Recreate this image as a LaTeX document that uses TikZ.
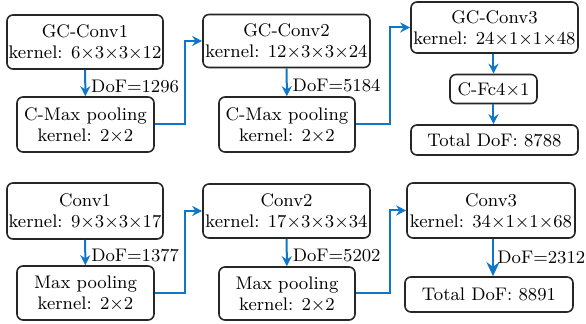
\documentclass[tikz,border=0pt]{standalone}
\usetikzlibrary{arrows.meta}
\definecolor{flowblue}{RGB}{16,118,200}
\begin{document}
\begin{tikzpicture}[x=0.5pt,y=-0.5pt,
  every node/.style={font=\fontsize{9.1}{10.6}\selectfont},
  blk/.style={draw=black!85, line width=0.8pt, rounded corners=3pt,
              align=center, inner sep=0pt},
  arr/.style={draw=flowblue, line width=1pt,
              -{Stealth[length=5pt,width=5pt]}},
  bigarr/.style={draw=flowblue, line width=1.4pt,
              -{Stealth[length=7pt,width=6.5pt]}},
  lbl/.style={right, inner sep=2.5pt, yshift=-1.5pt}]
\useasboundingbox (0,0) rectangle (586,324);

% graph-convolution branch
\node[blk, minimum width=156*0.5pt, minimum height=54*0.5pt] (gc1) at (85,42)
  {GC-Conv1\\kernel: 6×3×3×12};
\node[blk, minimum width=137*0.5pt, minimum height=55*0.5pt] (pool1) at (85.5,124.5)
  {C-Max pooling\\kernel: 2×2};
\node[blk, minimum width=167*0.5pt, minimum height=53*0.5pt] (gc2) at (286.5,41)
  {GC-Conv2\\kernel: 12×3×3×24};
\node[blk, minimum width=136*0.5pt, minimum height=55*0.5pt] (pool2) at (287,124.5)
  {C-Max pooling\\kernel: 2×2};
\node[blk, minimum width=167*0.5pt, minimum height=51*0.5pt] (gc3) at (494.5,27.5)
  {GC-Conv3\\kernel: 24×1×1×48};
\node[blk, minimum width=87*0.5pt, minimum height=29*0.5pt] (fc4) at (493.5,89)
  {C-Fc4×1};
\node[blk, minimum width=167*0.5pt, minimum height=30*0.5pt] (tot1) at (494.5,140)
  {Total DoF: 8788};

\draw[arr] (gc1) -- node[lbl]{DoF=1296} (pool1);
\draw[arr] (pool1.east) -- ++(30,0) |- (gc2.west);
\draw[arr] (gc2) -- node[lbl]{DoF=5184} (pool2);
\draw[arr] (pool2.east) -- ++(34,0) |- (gc3.west);
\draw[arr] (gc3.south -| fc4.north) -- (fc4.north);
\draw[arr] (fc4.south) -- (fc4.south |- tot1.north);

% plain convolution branch
\node[blk, minimum width=156*0.5pt, minimum height=56*0.5pt] (c1) at (85,211)
  {Conv1\\kernel: 9×3×3×17};
\node[blk, minimum width=137*0.5pt, minimum height=54*0.5pt] (mp1) at (85.5,293)
  {Max pooling\\kernel: 2×2};
\node[blk, minimum width=167*0.5pt, minimum height=54*0.5pt] (c2) at (286.5,211)
  {Conv2\\kernel: 17×3×3×34};
\node[blk, minimum width=136*0.5pt, minimum height=53*0.5pt] (mp2) at (287,293.5)
  {Max pooling\\kernel: 2×2};
\node[blk, minimum width=168*0.5pt, minimum height=55*0.5pt] (c3) at (491,210.5)
  {Conv3\\kernel: 34×1×1×68};
\node[blk, minimum width=168*0.5pt, minimum height=35*0.5pt] (tot2) at (489,294.5)
  {Total DoF: 8891};

\draw[arr] (c1) -- node[lbl]{DoF=1377} (mp1);
\draw[arr] (mp1.east) -- ++(30,0) |- (c2.west);
\draw[arr] (c2) -- node[lbl]{DoF=5202} (mp2);
\draw[arr] (mp2.east) -- ++(34,0) |- (c3.west);
\draw[bigarr] ([xshift=1pt]c3.south) -- node[lbl, inner sep=1.5pt, yshift=1.5pt]{DoF=2312} ([xshift=1pt]c3.south |- tot2.north);
\end{tikzpicture}
\end{document}
